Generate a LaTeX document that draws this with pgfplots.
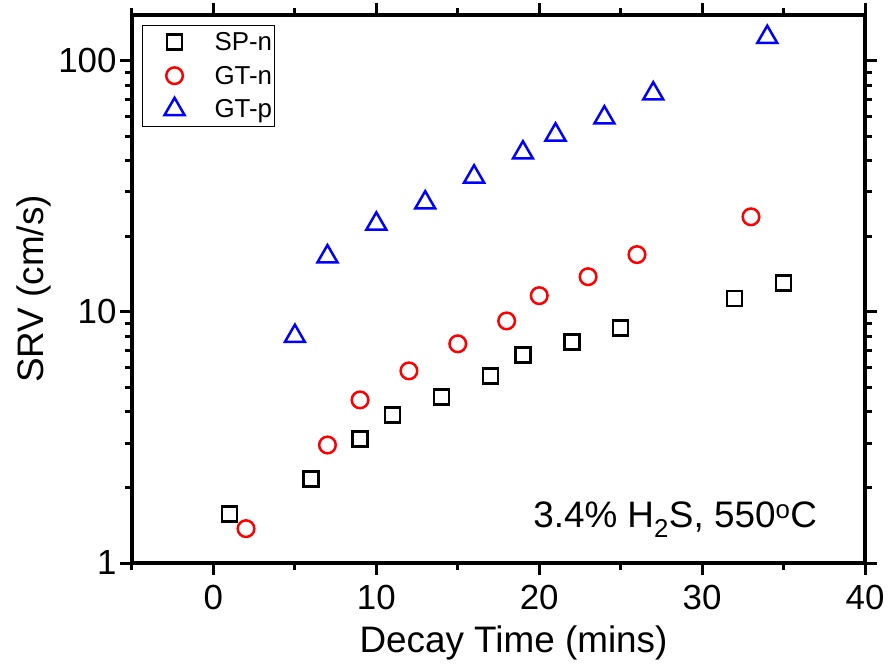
\documentclass[border=0pt]{standalone}
\usepackage{fontspec}
\setmainfont{Liberation Sans}
\usepackage{pgfplots}
\pgfplotsset{compat=1.18}

\begin{document}
\begin{tikzpicture}
\path[use as bounding box] (-132bp,-101bp) rectangle (756bp,563bp);
\begin{axis}[
  scale only axis,
  width=733bp, height=548bp,
  xmin=-5, xmax=40,
  ymin=1, ymax=152,
  ymode=log,
  xtick={0,10,20,30,40},
  minor xtick={-5,5,15,25,35},
  ytick={1,10,100},
  yticklabels={1,10,100},
  minor ytick={2,3,4,5,6,7,8,9,20,30,40,50,60,70,80,90},
  tick align=outside,
  axis line style={line width=4bp},
  every tick/.style={black,line width=3bp},
  major tick length=12bp,
  minor tick length=7bp,
  /pgf/number format/assume math mode=true,
  tick label style={font=\fontsize{35}{42}\selectfont},
  xticklabel style={yshift=-7bp},
  label style={font=\fontsize{37}{44}\selectfont},
  xlabel style={yshift=-9bp,xshift=15bp},
  xlabel={Decay Time (mins)},
  ylabel={SRV (cm/s)},
  legend style={at={(0.0137,0.982)},anchor=north west,draw=black,line width=1bp,
    font=\fontsize{26}{31}\selectfont,row sep=10bp,inner xsep=0bp,inner ysep=5bp,
    nodes={inner xsep=2bp}},
  legend image code/.code={\path[draw=none,fill=none] (0bp,0bp) -- (70bp,0bp);
    \draw[#1] plot coordinates {(32bp,0bp)};},
  legend cell align=left,
]
\addplot[only marks,mark=square,mark size=7.5bp,black,mark options={line width=2.5bp}] coordinates {
  (1,1.57) (6,2.16) (9,3.12) (11,3.89) (14,4.58) (17,5.56) (19,6.74)
  (22,7.59) (25,8.63) (32,11.3) (35,13.05)
};
\addlegendentry{SP-n}
\addplot[only marks,mark=o,mark size=8.3bp,red,mark options={line width=2.5bp}] coordinates {
  (2,1.37) (7,2.95) (9,4.46) (12,5.82) (15,7.46) (18,9.2) (20,11.6)
  (23,13.8) (26,16.9) (33,23.9)
};
\addlegendentry{GT-n}
\addplot[only marks,mark=triangle,mark size=11.5bp,blue,mark options={line width=2.5bp}] coordinates {
  (5,8.0) (7,16.6) (10,22.4) (13,27.2) (16,34.5) (19,43.0) (21,50.7)
  (24,59.3) (27,73.9) (34,124)
};
\addlegendentry{GT-p}
\node[anchor=base,font=\fontsize{37}{44}\selectfont] at (rel axis cs:0.741,0.064)
  {3.4\% H\textsubscript{2}S, 550\textsuperscript{o}C};
\end{axis}
\end{tikzpicture}
\end{document}
